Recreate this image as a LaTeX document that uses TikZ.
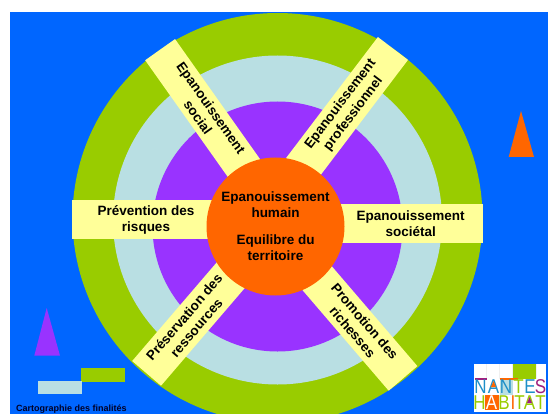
\documentclass[tikz,border=0pt]{standalone}
\usepackage{fontspec}
\setmainfont{Liberation Sans}
\usepackage{xcolor}
\usetikzlibrary{positioning}

\definecolor{skyblue}{HTML}{0066FF}
\definecolor{leafgreen}{HTML}{99CC00}
\definecolor{paleblue}{HTML}{B9DFE3}
\definecolor{violet2}{HTML}{9933FF}
\definecolor{tangerine}{HTML}{FF6600}
\definecolor{paleyellow}{HTML}{FFFF99}
\definecolor{logoteal}{HTML}{1E8FC8}
\definecolor{logoplum}{HTML}{A0207F}

\tikzset{
  finality/.style={fill=paleyellow, inner sep=0pt, align=center, font=\fontsize{13.5}{16}\selectfont\bfseries},
  logoletter/.style={inner sep=0pt, font=\fontsize{20}{20}\selectfont, xscale=0.85}
}

\begin{document}
\begin{tikzpicture}[x=1pt,y=-1pt]
\clip (0,0) rectangle (548,414);

% Background
\fill[skyblue] (10,12) rectangle (548,414);

% Rings
\fill[leafgreen] (277.5,218) circle (205pt);
\fill[paleblue] (277.5,220) circle (164.5pt);
\fill[violet2] (277.5,226.5) circle (125pt);

% Finalities
\node[finality, minimum width=154pt, minimum height=36.6pt, rotate=-54.7] (social) at (204.6,112.5) {Epanouissement\\social};
\node[finality, minimum width=152pt, minimum height=37.8pt, rotate=52.8] (professionnel) at (347,109) {Epanouissement\\professionnel};
\node[finality, minimum width=148pt, minimum height=39pt] (risques) at (146,219.5) {Prévention des\\risques};
\node[finality, minimum width=145pt, minimum height=39pt] (societal) at (410.7,223.5) {Epanouissement\\sociétal};
\node[finality, minimum width=134pt, minimum height=38pt, rotate=49.4] (ressources) at (190.2,322.5) {Préservation des\\ressources};
\node[finality, minimum width=136pt, minimum height=37.8pt, rotate=-49.4] (richesses) at (358.8,326.8) {Promotion des\\richesses};

% Centre
\node[circle, fill=tangerine, minimum size=138pt, inner sep=0pt, align=center, font=\fontsize{13.5}{16}\selectfont\bfseries] (humain) at (275.5,226.5) {Epanouissement\\humain\\[11pt]Equilibre du\\territoire};

% Legend shapes
\fill[tangerine] (521,111) -- (534,157) -- (508.7,157) -- cycle;
\fill[violet2] (46.7,308) -- (60,355.7) -- (34.3,355.7) -- cycle;
\fill[leafgreen] (81,368) rectangle (125,381.7);
\fill[paleblue] (38,381) rectangle (82,394);
\node[anchor=west, inner sep=0pt, font=\fontsize{9}{9}\selectfont\bfseries, text=black!85!blue] (caption) at (16,409) {Cartographie des finalités};

% Logo
\fill[white] (474,364) rectangle (545.7,411.7);
\foreach \x in {486.5,499.5,512.5,536} \draw[black!6] (\x,364) -- (\x,379);
\fill[leafgreen] (513,364) rectangle (536,379);
\fill[logoplum] (475,378) rectangle (487,380);
\fill[tangerine] (500,378) rectangle (518,380);
\fill[paleblue] (500,380) rectangle (513,395);
\fill[tangerine] (485,395) rectangle (498.5,409.5);
\foreach \letter/\x/\col in {N/480.5/logoteal, A/493.5/logoteal, N/506/logoteal, T/518.5/leafgreen, E/530/logoteal, S/540.5/logoplum}
  \node[logoletter, text=\col] (top\x) at (\x,387) {\letter};
\foreach \letter/\x/\col in {H/479.5/leafgreen, A/491.5/white, B/504/leafgreen, I/513/tangerine, T/519.5/leafgreen, A/529.5/leafgreen, T/540.5/leafgreen}
  \node[logoletter, text=\col] (low\x) at (\x,402.5) {\letter};
\fill[tangerine] (493.5,381) -- (496,387) -- (491,387) -- cycle;
\fill[logoplum] (529.5,397) -- (532,403) -- (527,403) -- cycle;
\end{tikzpicture}
\end{document}
